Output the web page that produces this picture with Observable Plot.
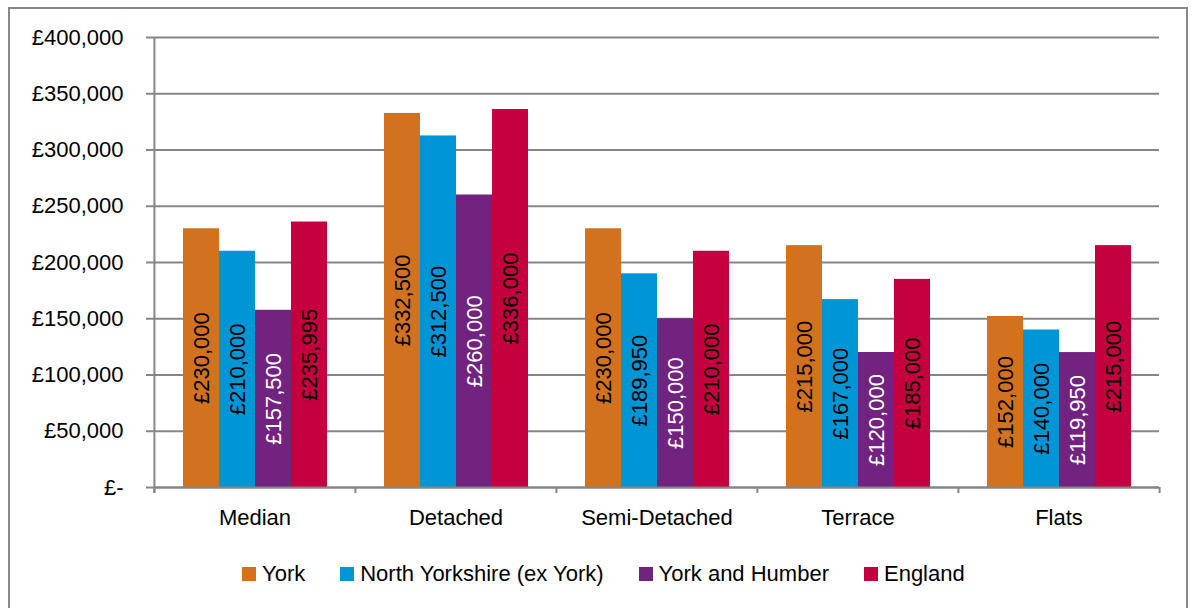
<!DOCTYPE html>
<html>
<head>
<meta charset="utf-8">
<script src="https://cdn.jsdelivr.net/npm/d3@7"></script>
<script src="https://cdn.jsdelivr.net/npm/@observablehq/plot@0.6"></script>
<style>
  html, body { margin: 0; padding: 0; background: #fff; }
  #wrap { position: relative; width: 1193px; height: 608px; overflow: hidden; background: #fff; }
  #border { position: absolute; left: 8px; top: 7px; width: 1180px; height: 620px; border: 2px solid #888; box-sizing: border-box; }
  #chart { position: absolute; left: 0; top: 0; }
  #legend { position: absolute; left: 242px; top: 561px; display: flex; align-items: center; gap: 35px; font-size: 26px; line-height: 26px; color: #000; white-space: nowrap; }
  #legend .item { display: flex; align-items: center; }
  #legend .sw { width: 14px; height: 14px; margin-right: 6px; display: inline-block; }
</style>
</head>
<body>
<div id="wrap">
  <div id="border"></div>
  <div id="chart"></div>
  <div id="legend"></div>
</div>
<script>
const categories = ["Median", "Detached", "Semi-Detached", "Terrace", "Flats"];
const series = ["York", "North Yorkshire (ex York)", "York and Humber", "England"];
const colors = ["#D2711E", "#0096D6", "#72227F", "#C5003E"];
const york = [230000, 332500, 230000, 215000, 152000];
const northYorkshire = [210000, 312500, 189950, 167000, 140000];
const yorkHumber = [157500, 260000, 150000, 120000, 119950];
const england = [235995, 336000, 210000, 185000, 215000];
const yTicks = [0, 50000, 100000, 150000, 200000, 250000, 300000, 350000, 400000];

const seriesValues = [york, northYorkshire, yorkHumber, england];
const data = [];
categories.forEach((c, i) => {
  series.forEach((s, j) => data.push({category: c, series: s, value: seriesValues[j][i]}));
});

const fontFamily = "'Liberation Sans', Arial, sans-serif";
const fontSize = 22;

const fmt = v => v === 0 ? "£-" : "£" + d3.format(",")(v);

const W = 1193, H = 545;
const mL = 153, mR = 34, mT = 37, mB = 58;
const half = (W - mL - mR) / categories.length / 2;
const grey = "#868686";

const plot = Plot.plot({
  width: W,
  height: H,
  marginLeft: mL,
  marginRight: mR,
  marginTop: mT,
  marginBottom: mB,
  style: {fontFamily, fontSize: fontSize + "px", background: "transparent", color: "#000"},
  fx: {domain: categories, padding: 0, axis: null, label: null},
  x: {domain: series, paddingInner: 0, paddingOuter: 0.737, axis: null, label: null},
  y: {domain: [0, 400000], axis: null, label: null},
  color: {domain: series, range: colors},
  marks: [
    Plot.gridY(yTicks, {stroke: grey, strokeOpacity: 1, strokeWidth: 2}),
    Plot.barY(data, {fx: "category", x: "series", y: "value", fill: "series"}),
    Plot.ruleY([0], {stroke: grey, strokeWidth: 2}),
    Plot.ruleX(["Median"], {x: null, fx: d => d, y1: 400000, y2: 0, dx: -half, insetBottom: -6, stroke: grey, strokeWidth: 2}),
    Plot.ruleX(categories, {x: null, fx: d => d, y1: 0, y2: 0, dx: -half, insetBottom: -6, stroke: grey, strokeWidth: 2}),
    Plot.ruleX(["Flats"], {x: null, fx: d => d, y1: 0, y2: 0, dx: half, insetBottom: -6, stroke: grey, strokeWidth: 2}),
    Plot.axisY(yTicks, {tickFormat: fmt, tickSize: 8, tickPadding: 23, stroke: grey, strokeWidth: 2, fill: "#000", label: null, fontSize: fontSize}),
    Plot.axisFx({anchor: "bottom", tickSize: 0, tickPadding: 22, label: null, fill: "#000", fontSize: fontSize}),
    Plot.text(data, {
      fx: "category", x: "series", y: d => d.value / 2,
      text: d => fmt(d.value), rotate: -90, fontSize: fontSize,
      fill: d => d.series === "York and Humber" ? "#fff" : "#000"
    })
  ]
});
document.getElementById("chart").appendChild(plot);

const legend = document.getElementById("legend");
legend.style.fontFamily = fontFamily;
legend.style.fontSize = fontSize + "px";
series.forEach((s, j) => {
  const item = document.createElement("div");
  item.className = "item";
  const sw = document.createElement("span");
  sw.className = "sw";
  sw.style.background = colors[j];
  const t = document.createElement("span");
  t.textContent = s;
  item.appendChild(sw);
  item.appendChild(t);
  legend.appendChild(item);
});
</script>
</body>
</html>
